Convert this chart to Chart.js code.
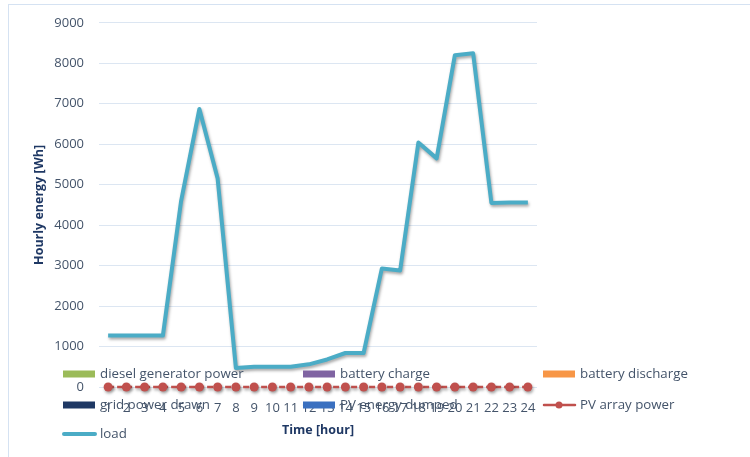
<!DOCTYPE html>
<html>
<head>
<meta charset="utf-8">
<script src="https://cdn.jsdelivr.net/npm/chart.js@4.4.0/dist/chart.umd.min.js"></script>
<style>
  html, body { margin: 0; padding: 0; background: #fff; }
  canvas { display: block; }
</style>
</head>
<body>
<canvas id="myChart" width="750" height="457"></canvas>
<script>
// hours of the day
const hours = ["1","2","3","4","5","6","7","8","9","10","11","12","13","14","15","16","17","18","19","20","21","22","23","24"];
const yTicks = [0, 1000, 2000, 3000, 4000, 5000, 6000, 7000, 8000, 9000];

// hourly energy [Wh]
const dieselPower = [0,0,0,0,0,0,0,0,0,0,0,0,0,0,0,0,0,0,0,0,0,0,0,0];
const batteryCharge = [0,0,0,0,0,0,0,0,0,0,0,0,0,0,0,0,0,0,0,0,0,0,0,0];
const batteryDischarge = [0,0,0,0,0,0,0,0,0,0,0,0,0,0,0,0,0,0,0,0,0,0,0,0];
const gridPower = [0,0,0,0,0,0,0,0,0,0,0,0,0,0,0,0,0,0,0,0,0,0,0,0];
const pvDumped = [0,0,0,0,0,0,0,0,0,0,0,0,0,0,0,0,0,0,0,0,0,0,0,0];
const pvArray = [0,0,0,0,0,0,0,0,0,0,0,0,0,0,0,0,0,0,0,0,0,0,0,0];
const load = [1270,1270,1270,1270,4600,6870,5150,470,500,500,500,560,680,840,840,2930,2880,6040,5650,8200,8250,4550,4560,4560];

const textColor = "#44546A";
const titleColor = "#1F3864";
const fontFamily = "'Open Sans', sans-serif";

Chart.defaults.font.family = fontFamily;

// thin frame round the chart (clipped by the window on the right/bottom)
const framePlugin = {
  id: "frame",
  beforeDraw(chart) {
    const ctx = chart.ctx;
    ctx.save();
    ctx.strokeStyle = "#D5E2F2";
    ctx.lineWidth = 1;
    ctx.strokeRect(8.5, 4.5, 800, 500);
    ctx.restore();
  },
};

// soft drop shadow under the line series
const shadowPlugin = {
  id: "shadow",
  beforeDatasetDraw(chart, args) {
    if (args.meta.type !== "line") return;
    const ctx = chart.ctx;
    ctx.save();
    ctx.shadowColor = "rgba(0,0,0,0.35)";
    ctx.shadowBlur = 3;
    ctx.shadowOffsetX = 1;
    ctx.shadowOffsetY = 2;
  },
  afterDatasetDraw(chart, args) {
    if (args.meta.type !== "line") return;
    chart.ctx.restore();
  },
};

// Excel-style legend laid over the bottom of the plot
const legendPlugin = {
  id: "overlayLegend",
  afterDraw(chart) {
    const ctx = chart.ctx;
    const cols = [63, 303, 543];
    const rows = [374, 405, 434];
    ctx.save();
    ctx.font = "13.3px " + fontFamily;
    ctx.textBaseline = "middle";
    ctx.textAlign = "left";
    chart.data.datasets.forEach((ds, i) => {
      const x = cols[i % 3];
      const y = rows[Math.floor(i / 3)];
      if (ds.type === "line") {
        ctx.strokeStyle = ds.borderColor;
        ctx.lineWidth = ds.borderWidth;
        ctx.lineCap = "round";
        ctx.setLineDash([]);
        ctx.beginPath();
        ctx.moveTo(x + 1, y);
        ctx.lineTo(x + 32, y);
        ctx.stroke();
        if (ds.pointRadius > 0) {
          ctx.fillStyle = ds.pointBackgroundColor;
          ctx.beginPath();
          ctx.arc(x + 16, y, 3.5, 0, Math.PI * 2);
          ctx.fill();
        }
      } else {
        ctx.fillStyle = ds.backgroundColor;
        ctx.fillRect(x, y - 3.5, 32, 7);
      }
      ctx.fillStyle = textColor;
      ctx.fillText(ds.label, x + 37, y);
    });
    ctx.restore();
  },
};

const ctx = document.getElementById("myChart").getContext("2d");
new Chart(ctx, {
  data: {
    labels: hours,
    datasets: [
      { type: "bar", label: "diesel generator power", data: dieselPower, backgroundColor: "#9BBB59", borderWidth: 0 },
      { type: "bar", label: "battery charge", data: batteryCharge, backgroundColor: "#8064A2", borderWidth: 0 },
      { type: "bar", label: "battery discharge", data: batteryDischarge, backgroundColor: "#F79646", borderWidth: 0 },
      { type: "bar", label: "grid power drawn", data: gridPower, backgroundColor: "#1F3864", borderWidth: 0 },
      { type: "bar", label: "PV energy dumped", data: pvDumped, backgroundColor: "#3A70C0", borderWidth: 0 },
      {
        type: "line", label: "PV array power", data: pvArray,
        borderColor: "#C0504D", borderWidth: 2.5, borderDash: [6, 3],
        pointRadius: 4.5, pointBackgroundColor: "#C0504D", pointBorderWidth: 0,
        tension: 0, clip: false,
      },
      {
        type: "line", label: "load", data: load,
        borderColor: "#4BACC6", borderWidth: 4, pointRadius: 0,
        tension: 0, borderJoinStyle: "round", clip: false,
      },
    ],
  },
  options: {
    responsive: false,
    animation: false,
    events: [],
    layout: { padding: { left: 0, top: 22, right: 213, bottom: 0 } },
    plugins: {
      legend: { display: false },
      tooltip: { enabled: false },
      title: { display: false },
    },
    scales: {
      x: {
        offset: true,
        grid: { display: false, drawTicks: false },
        border: { display: false },
        ticks: { color: textColor, font: { size: 13 }, padding: 13, maxRotation: 0, autoSkip: false },
        title: {
          display: true, text: "Time [hour]", color: titleColor,
          font: { size: 12.5, weight: "bold" }, padding: { top: 0, bottom: 19 },
        },
        afterFit(scale) { scale.height = 70; },
      },
      y: {
        min: 0, max: 9000,
        afterBuildTicks(scale) { scale.ticks = yTicks.map(v => ({ value: v })); },
        grid: { color: "#DCE6F2", lineWidth: 1, drawTicks: false },
        border: { display: false },
        ticks: { color: textColor, font: { size: 13 }, padding: 15, callback: (v) => String(v) },
        title: {
          display: true, text: "Hourly energy [Wh]", color: titleColor,
          font: { size: 12.5, weight: "bold" }, padding: { top: 32, bottom: 0 },
        },
        afterFit(scale) { scale.width = 99; },
      },
    },
  },
  plugins: [framePlugin, shadowPlugin, legendPlugin],
});
</script>
</body>
</html>
